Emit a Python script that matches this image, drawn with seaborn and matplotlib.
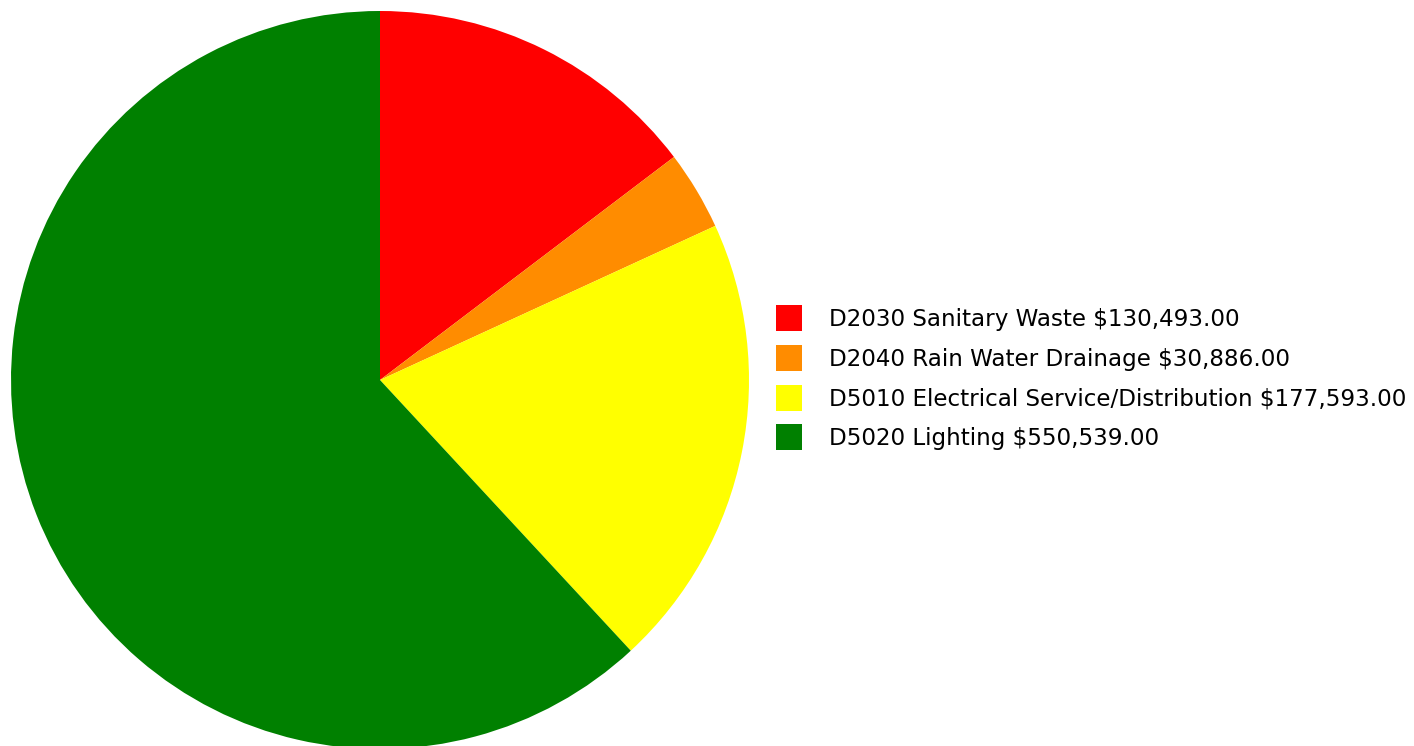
import matplotlib
matplotlib.use("Agg")
import matplotlib.pyplot as plt
import seaborn as sns
from matplotlib.patches import Patch

sns.set_theme(style="white")
plt.rcParams['font.family'] = ['DejaVu Sans']

categories = ["D2030 Sanitary Waste", "D2040 Rain Water Drainage",
              "D5010 Electrical Service/Distribution", "D5020 Lighting"]
values = [130493.00, 30886.00, 177593.00, 550539.00]
colors = ["#FF0000", "#FF8C00", "#FFFF00", "#008000"]

W, H = 1414, 746
fig = plt.figure(figsize=(W / 100, H / 100), dpi=100)
fig.patch.set_facecolor("white")

cx, cy, r = 380, 380, 369
ax = fig.add_axes([(cx - r) / W, (H - cy - r) / H, 2 * r / W, 2 * r / H])
ax.pie(values, colors=colors, startangle=90, counterclock=False, radius=1,
       wedgeprops=dict(linewidth=0))
ax.set_xlim(-1, 1)
ax.set_ylim(-1, 1)
ax.set_aspect("equal")
ax.axis("off")

labels = [f"{c} ${v:,.2f}" for c, v in zip(categories, values)]
handles = [Patch(facecolor=col, edgecolor="none") for col in colors]
fs = 16.6
fpx = fs * 100 / 72
hh = (26 / fpx - 0.245) / 0.65
leg = fig.legend(handles, labels, loc="upper left",
                 bbox_to_anchor=(776 / W, 1 - 305 / H),
                 frameon=False, fontsize=fs,
                 handlelength=26 / fpx, handleheight=hh,
                 handletextpad=27 / fpx, labelspacing=0.60,
                 borderpad=0, borderaxespad=0)
for t in leg.get_texts():
    t.set_color("black")

fig.savefig("out.png", dpi=100, facecolor="white")
